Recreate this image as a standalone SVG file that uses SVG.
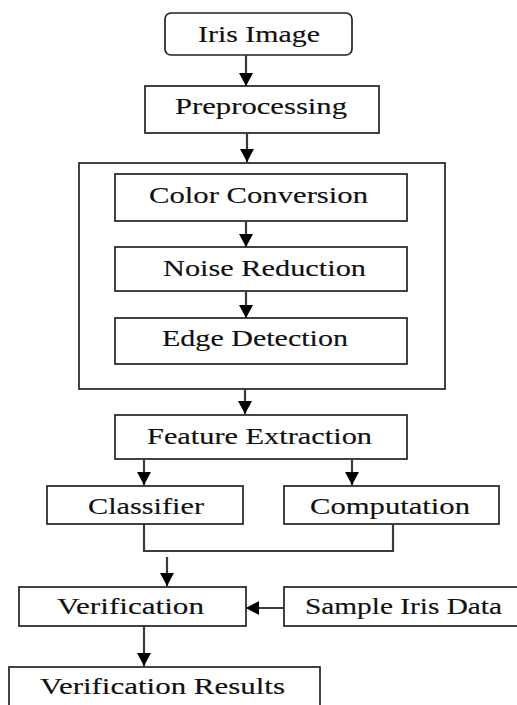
<svg xmlns="http://www.w3.org/2000/svg" width="517" height="705" viewBox="0 0 517 705">
<style>
.box{fill:#fff;stroke:#222;stroke-width:1.7}
.t{font-family:"Liberation Serif","Times New Roman",serif;font-size:24px;fill:#111;stroke:#111;stroke-width:0.15;text-anchor:start}
.c{fill:none;stroke:#3a3a3a;stroke-width:2.2}
</style>
<defs>
<marker id="ah" markerUnits="userSpaceOnUse" markerWidth="16" markerHeight="16" refX="13" refY="7" orient="auto">
<path d="M0,0 L13,7 L0,14 z" fill="#000"/>
</marker>
</defs>
<rect width="517" height="705" fill="#fff"/>
<g id="n-outer"><rect class="box" x="79" y="163" width="366" height="226"/></g>
<g id="n-iris"><rect class="box" x="165" y="13" width="187" height="42" rx="6"/><text class="t" x="198" y="42" textLength="122" lengthAdjust="spacingAndGlyphs">Iris Image</text></g>
<g id="n-pre"><rect class="box" x="145" y="86" width="234" height="47"/><text class="t" x="175" y="114" textLength="172" lengthAdjust="spacingAndGlyphs">Preprocessing</text></g>
<g id="n-color"><rect class="box" x="115" y="174" width="292" height="47"/><text class="t" x="149" y="203" textLength="219" lengthAdjust="spacingAndGlyphs">Color Conversion</text></g>
<g id="n-noise"><rect class="box" x="115" y="247" width="292" height="44"/><text class="t" x="163" y="276" textLength="203" lengthAdjust="spacingAndGlyphs">Noise Reduction</text></g>
<g id="n-edge"><rect class="box" x="115" y="318" width="292" height="46"/><text class="t" x="162" y="346" textLength="186" lengthAdjust="spacingAndGlyphs">Edge Detection</text></g>
<g id="n-feat"><rect class="box" x="115" y="415" width="292" height="44"/><text class="t" x="147" y="444" textLength="225" lengthAdjust="spacingAndGlyphs">Feature Extraction</text></g>
<g id="n-class"><rect class="box" x="47" y="486" width="196" height="38"/><text class="t" x="88" y="514" textLength="116" lengthAdjust="spacingAndGlyphs">Classifier</text></g>
<g id="n-comp"><rect class="box" x="284" y="486" width="215" height="38"/><text class="t" x="310" y="514" textLength="160" lengthAdjust="spacingAndGlyphs">Computation</text></g>
<g id="n-verif"><rect class="box" x="19" y="587" width="227" height="39"/><text class="t" x="57" y="614" textLength="147" lengthAdjust="spacingAndGlyphs">Verification</text></g>
<g id="n-sample"><rect class="box" x="284" y="587" width="240" height="39"/><text class="t" x="305" y="614" textLength="197" lengthAdjust="spacingAndGlyphs">Sample Iris Data</text></g>
<g id="n-results"><rect class="box" x="9" y="667" width="311" height="50"/><text class="t" x="40" y="694" textLength="245" lengthAdjust="spacingAndGlyphs">Verification Results</text></g>
<g id="connectors">
<line class="c" x1="246" y1="55" x2="246" y2="86" marker-end="url(#ah)"/>
<line class="c" x1="247" y1="133" x2="247" y2="162" marker-end="url(#ah)"/>
<line class="c" x1="246" y1="221" x2="246" y2="247" marker-end="url(#ah)"/>
<line class="c" x1="246" y1="291" x2="246" y2="318" marker-end="url(#ah)"/>
<line class="c" x1="245" y1="389" x2="245" y2="414" marker-end="url(#ah)"/>
<line class="c" x1="144" y1="459" x2="144" y2="485" marker-end="url(#ah)"/>
<line class="c" x1="352" y1="459" x2="352" y2="485" marker-end="url(#ah)"/>
<polyline class="c" points="144,524 144,551 393,551 393,524"/>
<line class="c" x1="167" y1="557" x2="167" y2="586" marker-end="url(#ah)"/>
<line class="c" x1="284" y1="608" x2="246" y2="608" marker-end="url(#ah)"/>
<line class="c" x1="144" y1="626" x2="144" y2="666" marker-end="url(#ah)"/>
</g>
</svg>
